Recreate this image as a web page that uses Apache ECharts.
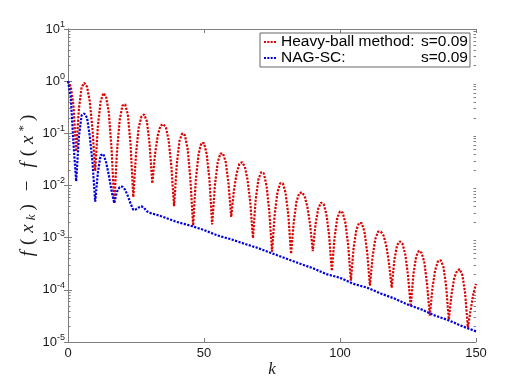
<!DOCTYPE html>
<html>
<head>
<meta charset="utf-8">
<script src="https://cdn.jsdelivr.net/npm/echarts@6/dist/echarts.min.js"></script>
<style>
  html, body { margin: 0; padding: 0; background: #fff; }
  #main { width: 526px; height: 385px; }
</style>
</head>
<body>
<div id="main"></div>
<script>
// f(x_k) - f(x*) for heavy-ball, one value per iteration k = 0..150
var heavyBall = [
  1, 7.9e-1, 3.5e-1, 4.5e-2, 2.9e-1, 7.6e-1, 9.3e-1, 7.8e-1, 4.1e-1, 1.2e-1,
  1.9e-2, 1.4e-1, 4.1e-1, 5.9e-1, 5.1e-1, 2.5e-1, 5.2e-2, 4.5e-3, 4.4e-2, 1.8e-1,
  3.4e-1, 3.6e-1, 2.3e-1, 6.2e-2, 6.0e-3, 4.0e-2, 1.3e-1, 2.1e-1, 2.3e-1, 1.7e-1,
  6.2e-2, 1.1e-2, 4.0e-2, 9.1e-2, 1.4e-1, 1.5e-1, 1.3e-1, 7.4e-2, 2.3e-2, 4.0e-3,
  2.6e-2, 7.2e-2, 1.0e-1, 9.1e-2, 5.0e-2, 1.3e-2, 1.7e-3, 1.3e-2, 4.0e-2, 6.5e-2,
  6.5e-2, 4.0e-2, 1.3e-2, 1.8e-3, 1.0e-2, 2.7e-2, 4.1e-2, 4.1e-2, 2.8e-2, 1.1e-2,
  2.5e-3, 8.1e-3, 1.7e-2, 2.6e-2, 2.8e-2, 2.3e-2, 1.3e-2, 4.8e-3, 9.8e-4, 5.4e-3,
  1.3e-2, 1.8e-2, 1.7e-2, 9.8e-3, 3.2e-3, 5.4e-4, 2.8e-3, 7.4e-3, 1.1e-2, 1.1e-2,
  7.2e-3, 2.7e-3, 4.9e-4, 2.0e-3, 4.9e-3, 7.1e-3, 7.4e-3, 6.2e-3, 3.9e-3, 1.8e-3,
  5.5e-4, 1.8e-3, 3.6e-3, 4.7e-3, 4.4e-3, 2.8e-3, 1.1e-3, 2.3e-4, 1.0e-3, 2.4e-3,
  3.2e-3, 3.0e-3, 1.9e-3, 7.2e-4, 1.5e-4, 6.3e-4, 1.4e-3, 1.9e-3, 1.9e-3, 1.3e-3,
  5.2e-4, 1.2e-4, 4.4e-4, 9.5e-4, 1.3e-3, 1.3e-3, 1.1e-3, 7.1e-4, 3.3e-4, 1.1e-4,
  3.8e-4, 7.2e-4, 8.5e-4, 7.6e-4, 4.8e-4, 1.9e-4, 4.8e-5, 2.0e-4, 4.4e-4, 5.6e-4,
  5.1e-4, 3.4e-4, 1.3e-4, 3.2e-5, 1.1e-4, 2.4e-4, 3.5e-4, 3.7e-4, 2.8e-4, 1.2e-4,
  2.7e-5, 8.1e-5, 1.7e-4, 2.3e-4, 2.5e-4, 1.9e-4, 8.7e-5, 1.9e-5, 4.0e-5, 8.3e-5, 1.3e-4
];

// NAG-SC: iterations and values (dense at the start, then every 5 steps)
var nagK = [
  0, 1, 2, 3, 4, 5, 6, 7, 8, 9, 10, 11, 12, 13, 14, 15, 16, 17, 18, 19,
  20, 21, 22, 23, 24, 25, 26, 27, 28, 29, 30, 31, 32, 33, 34, 35,
  40, 45, 50, 55, 60, 65, 70, 75, 80, 85, 90, 95, 100, 105, 110, 115,
  120, 125, 130, 135, 140, 145, 150
];
var nagVal = [
  1, 5.0e-1, 6.5e-2, 1.2e-2, 8.5e-2, 2.2e-1, 2.4e-1, 2.0e-1, 8.9e-2, 2.8e-2,
  4.9e-3, 1.8e-2, 3.8e-2, 4.0e-2, 2.8e-2, 1.6e-2, 7.9e-3, 4.6e-3, 7.6e-3, 9.3e-3,
  9.5e-3, 8.3e-3, 6.3e-3, 4.5e-3, 3.4e-3, 3.5e-3, 3.8e-3, 4.0e-3, 3.7e-3, 3.2e-3,
  3.0e-3, 2.9e-3, 2.8e-3, 2.7e-3, 2.6e-3, 2.5e-3,
  2.0e-3, 1.7e-3, 1.4e-3, 1.1e-3, 9.3e-4, 7.6e-4, 6.3e-4, 5.0e-4, 4.0e-4, 3.2e-4,
  2.6e-4, 2.0e-4, 1.7e-4, 1.3e-4, 1.1e-4, 8.5e-5, 6.8e-5, 5.2e-5, 4.2e-5, 3.2e-5,
  2.6e-5, 2.0e-5, 1.6e-5
];

var seriesNames = ['Heavy-ball method:', 'NAG-SC:'];
var stepLabel = ['s=0.09', 's=0.09'];
var xTicks = [0, 50, 100, 150];
var yExpMin = -5, yExpMax = 1;

var chart = echarts.init(document.getElementById('main'));
var axisGray = '#7f7f7f';
var sans = 'Liberation Sans';
var serif = 'Liberation Serif';
// four small squares, like a dotted line sample
var dotIcon = 'path://M0,0H2V2H0Z M3.4,0H5.4V2H3.4Z M6.8,0H8.8V2H6.8Z M10.2,0H12.2V2H10.2Z';

function xAxisCfg(pos) {
  return {
    type: 'value', position: pos,
    min: xTicks[0], max: xTicks[xTicks.length - 1], interval: 50,
    axisLine: { lineStyle: { color: axisGray, width: 1 } },
    axisTick: { inside: true, length: 4, lineStyle: { color: axisGray } },
    axisLabel: pos == 'bottom' ? {
      color: '#1a1a1a', fontSize: 13, fontFamily: sans, margin: 5
    } : { show: false },
    splitLine: { show: false }
  };
}

function yAxisCfg(pos) {
  return {
    type: 'log', logBase: 10, position: pos,
    min: Math.pow(10, yExpMin), max: Math.pow(10, yExpMax), interval: 1,
    axisLine: { lineStyle: { color: axisGray, width: 1 } },
    axisTick: { inside: true, length: 4, lineStyle: { color: axisGray } },
    axisLabel: pos == 'left' ? {
      margin: 3,
      formatter: function (v) {
        var e = Math.round(Math.log10(v));
        return '{b|10}{e|' + e + '}';
      },
      rich: {
        b: { fontSize: 13, fontFamily: sans, color: '#1a1a1a' },
        e: { fontSize: 9, fontFamily: sans, color: '#1a1a1a', padding: [0, 0, 9, 0] }
      }
    } : { show: false },
    splitLine: { show: false }
  };
}

var yName = '{i|f}{r|(}{i|x}{s|k}{r|)}{m|−}{i|f}{r|(}{i|x}{p|*}{r|)}';

var option = {
  animation: false,
  backgroundColor: '#fff',
  grid: { left: 68, right: 50, top: 29, bottom: 43 },
  legend: {
    left: 260, top: 33,
    orient: 'vertical',
    padding: [1, 2, 1, 4],
    itemGap: 0,
    itemWidth: 12, itemHeight: 2.2,
    borderColor: '#666', borderWidth: 1,
    backgroundColor: '#fff',
    data: seriesNames.map(function (n) { return { name: n, icon: dotIcon }; }),
    formatter: function (name) {
      var i = seriesNames.indexOf(name);
      return '{a|' + name + '}{b|' + stepLabel[i] + '}';
    },
    textStyle: {
      rich: {
        a: { width: 140, fontSize: 15.5, fontFamily: sans, color: '#000', lineHeight: 16 },
        b: { fontSize: 15.5, fontFamily: sans, color: '#000', lineHeight: 16 }
      }
    }
  },
  xAxis: [
    Object.assign(xAxisCfg('bottom'), {
      name: 'k', nameLocation: 'middle', nameGap: 19, nameMoveOverlap: false,
      nameTextStyle: { fontFamily: serif, fontStyle: 'italic', fontSize: 17, color: '#1a1a1a' }
    }),
    xAxisCfg('top')
  ],
  yAxis: [
    Object.assign(yAxisCfg('left'), {
      name: yName, nameLocation: 'middle', nameGap: 29, nameRotate: 90, nameMoveOverlap: false,
      nameTextStyle: {
        rich: {
          i: { fontFamily: serif, fontStyle: 'italic', fontSize: 19, color: '#1a1a1a', padding: [0, 3, 0, 3] },
          r: { fontFamily: serif, fontSize: 19, color: '#1a1a1a', padding: [0, 3, 0, 3] },
          m: { fontFamily: serif, fontSize: 19, color: '#1a1a1a', padding: [0, 10, 0, 10] },
          s: { fontFamily: serif, fontStyle: 'italic', fontSize: 13, color: '#1a1a1a', padding: [8, 1, 0, 1] },
          p: { fontFamily: serif, fontSize: 13, color: '#1a1a1a', padding: [0, 1, 9, 1] }
        }
      }
    }),
    yAxisCfg('right')
  ],
  series: [
    {
      name: seriesNames[0], type: 'line',
      data: heavyBall.map(function (v, k) { return [k, v]; }),
      symbol: 'none', showSymbol: false,
      lineStyle: { color: '#dd0000', width: 2.2, type: [2.2, 1.4], cap: 'butt' },
      itemStyle: { color: '#dd0000' }
    },
    {
      name: seriesNames[1], type: 'line',
      data: nagK.map(function (k, i) { return [k, nagVal[i]]; }),
      symbol: 'none', showSymbol: false,
      lineStyle: { color: '#0000dd', width: 2.2, type: [2.2, 1.4], cap: 'butt' },
      itemStyle: { color: '#0000dd' }
    }
  ]
};
chart.setOption(option);

// log minor ticks (2..9 per decade) on both vertical axes
var xl = chart.convertToPixel({ xAxisIndex: 0 }, xTicks[0]);
var xr = chart.convertToPixel({ xAxisIndex: 0 }, xTicks[xTicks.length - 1]);
var minor = [];
for (var d = yExpMin; d < yExpMax; d++) {
  for (var m = 2; m <= 9; m++) {
    var y = Math.round(chart.convertToPixel({ yAxisIndex: 0 }, m * Math.pow(10, d))) + 0.5;
    minor.push({ type: 'line', shape: { x1: xl, y1: y, x2: xl + 2.5, y2: y }, style: { stroke: axisGray, lineWidth: 1 } });
    minor.push({ type: 'line', shape: { x1: xr - 2.5, y1: y, x2: xr, y2: y }, style: { stroke: axisGray, lineWidth: 1 } });
  }
}
chart.setOption({ graphic: minor });
</script>
</body>
</html>
